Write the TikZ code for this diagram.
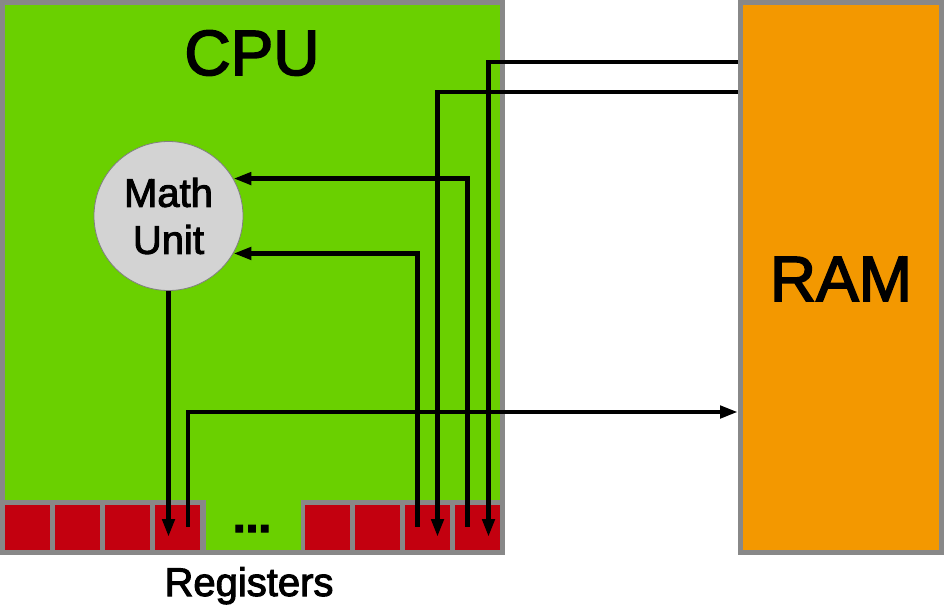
\documentclass[tikz,border=0pt]{standalone}
\usepackage{fontspec}
\setmainfont{Liberation Sans}[FakeBold=2.5]
\usetikzlibrary{arrows.meta,calc}
\definecolor{cpugreen}{RGB}{106,208,0}
\definecolor{ramorange}{RGB}{243,152,0}
\definecolor{regred}{RGB}{195,0,15}
\definecolor{bordergray}{RGB}{136,136,136}
\definecolor{mathgray}{RGB}{211,211,211}
\tikzset{
  box/.style={draw=bordergray, line width=5pt, inner sep=0pt},
  reg/.style={fill=regred, draw=none, minimum width=45pt, minimum height=45pt, inner sep=0pt},
  wire/.style={line width=4.5pt, black},
  arr/.style={wire, -{Triangle[length=18pt,width=12pt]}},
}
\begin{document}
\begin{tikzpicture}[x=1pt,y=-1pt]
\useasboundingbox (0,0) rectangle (944,606);
% CPU
\node[box, fill=cpugreen, minimum width=500pt, minimum height=550pt] (cpu) at (252.5,277.5) {};
\node[font=\fontsize{64}{64}\selectfont, anchor=base] (cputxt) at (252,75) {CPU};
% register strip
\fill[bordergray] (2.5,500) rectangle (502.5,552.5);
\node[reg] (r1) at (27.5,527.5) {};
\node[reg] (r2) at (77.5,527.5) {};
\node[reg] (r3) at (127.5,527.5) {};
\node[reg] (r4) at (177.5,527.5) {};
\fill[cpugreen] (205.5,498) rectangle (300.5,550);
\node[reg] (r5) at (327.5,527.5) {};
\node[reg] (r6) at (377.5,527.5) {};
\node[reg] (r7) at (427.5,527.5) {};
\node[reg] (r8) at (477.5,527.5) {};
\node[font=\bfseries\fontsize{46}{46}\selectfont, anchor=base] (dots) at (252,532) {...};
\node[font=\fontsize{40}{40}\selectfont, anchor=base] (regtxt) at (249,596) {Registers};
% RAM
\node[box, fill=ramorange, minimum width=201pt, minimum height=550pt] (ram) at (841,277.5) {};
\node[font=\fontsize{64}{64}\selectfont, anchor=base] (ramtxt) at (841,301) {RAM};
% Math unit
\node[circle, fill=mathgray, draw=gray, line width=0.8pt, minimum size=149pt, inner sep=0pt,
      align=center, font=\fontsize{40}{47}\selectfont] (m) at (168.5,216) {Math\\Unit};
% wires
\draw[arr] (ram.west |- 0,62) -| ([xshift=11pt,yshift=-9.5pt]r8.center);
\draw[arr] (ram.west |- 0,92) -| ([xshift=10pt,yshift=-9.5pt]r7.center);
\draw[arr] ([xshift=-10pt,yshift=1pt]r8.center) |- (m.30);
\draw[arr] ([xshift=-10pt,yshift=1pt]r7.center) |- (m.-30);
\draw[arr] (m.south) -- ($(m.south |- r4.center)+(0,9.5)$);
\draw[arr] ([xshift=10.5pt,yshift=1pt]r4.center) |- (ram.west |- 0,412);
\end{tikzpicture}
\end{document}
